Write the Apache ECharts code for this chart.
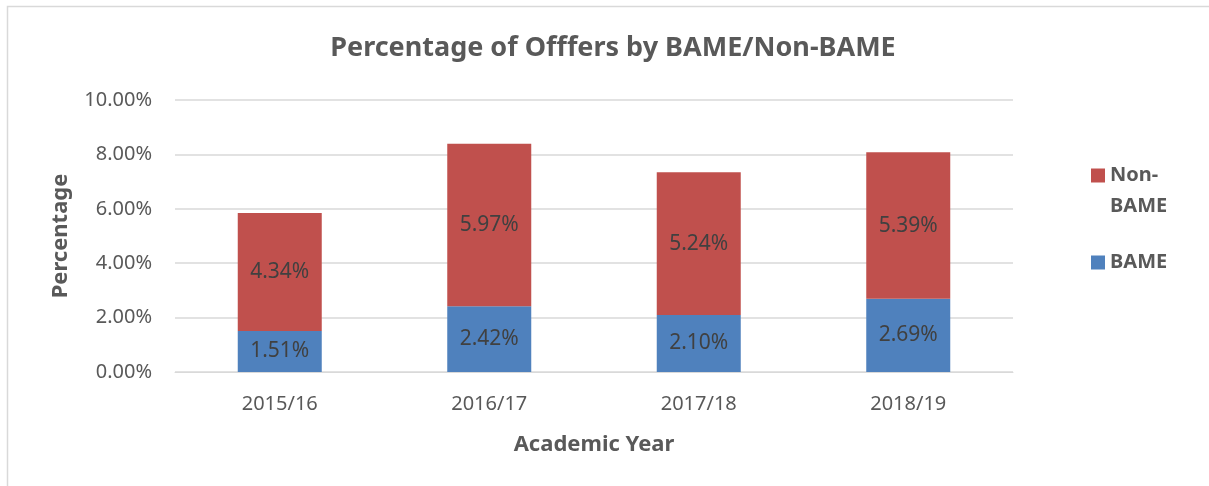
<!DOCTYPE html>
<html>
<head>
<meta charset="utf-8">
<script src="https://cdn.jsdelivr.net/npm/echarts@6/dist/echarts.min.js"></script>
<style>
  html, body { margin: 0; padding: 0; background: #fff; }
  #chart { width: 1209px; height: 486px; }
</style>
</head>
<body>
<div id="chart"></div>
<script>
// data
var years = ['2015/16', '2016/17', '2017/18', '2018/19'];
var bame = [1.51, 2.42, 2.10, 2.69];
var nonBame = [4.34, 5.97, 5.24, 5.39];
var seriesNames = ['BAME', 'Non-BAME'];

var font = 'Noto Sans';
var myChart = echarts.init(document.getElementById('chart'));

var option = {
    backgroundColor: '#fff',
    textStyle: { fontFamily: font },
    title: {
        text: 'Percentage of Offfers by BAME/Non-BAME',
        left: 608,
        textAlign: 'center',
        top: 30,
        textStyle: { fontSize: 27, fontWeight: 'bold', color: '#595959', fontFamily: font }
    },
    legend: {
        data: ['Non-BAME', 'BAME'],
        orient: 'vertical',
        left: 1091,
        top: 129,
        padding: 0,
        itemWidth: 14,
        itemHeight: 14,
        itemGap: 25,
        icon: 'rect',
        // empty first line keeps the icon level with "Non-"
        formatter: function (name) {
            return name === 'Non-BAME' ? '\nNon-\nBAME' : name;
        },
        textStyle: { fontSize: 20, fontWeight: 'bold', color: '#595959', lineHeight: 31, fontFamily: font }
    },
    grid: { left: 175, right: 196, top: 100, bottom: 114 },
    xAxis: {
        type: 'category',
        data: years,
        name: 'Academic Year',
        nameLocation: 'middle',
        nameGap: 62,
        nameTextStyle: { fontSize: 22, fontWeight: 'bold', color: '#595959' },
        axisLine: { lineStyle: { color: '#d9d9d9' } },
        axisTick: { show: false },
        axisLabel: { fontSize: 20, color: '#595959', margin: 22 }
    },
    yAxis: {
        type: 'value',
        min: 0,
        max: 10,
        interval: 2,
        name: 'Percentage',
        nameLocation: 'middle',
        nameGap: 103,
        nameTextStyle: { fontSize: 22, fontWeight: 'bold', color: '#595959' },
        axisLabel: {
            fontSize: 20,
            color: '#595959',
            margin: 23,
            formatter: function (v) { return v.toFixed(2) + '%'; }
        },
        splitLine: { lineStyle: { color: '#d9d9d9', width: 1.5 } }
    },
    series: [{
        name: seriesNames[0],
        type: 'bar',
        stack: 'total',
        data: bame,
        barWidth: 84,
        itemStyle: { color: '#4F81BD' },
        label: {
            show: true, position: 'inside', fontSize: 21, color: '#404040',
            formatter: function (p) { return p.value.toFixed(2) + '%'; }
        }
    }, {
        name: seriesNames[1],
        type: 'bar',
        stack: 'total',
        data: nonBame,
        barWidth: 84,
        itemStyle: { color: '#C0504D' },
        label: {
            show: true, position: 'inside', fontSize: 21, color: '#404040',
            formatter: function (p) { return p.value.toFixed(2) + '%'; }
        }
    }],
    graphic: [{
        type: 'rect',
        shape: { x: 7.5, y: 6.5, width: 1210, height: 490 },
        style: { fill: 'none', stroke: '#d9d9d9', lineWidth: 1.5 },
        silent: true
    }]
};

myChart.setOption(option);
</script>
</body>
</html>
